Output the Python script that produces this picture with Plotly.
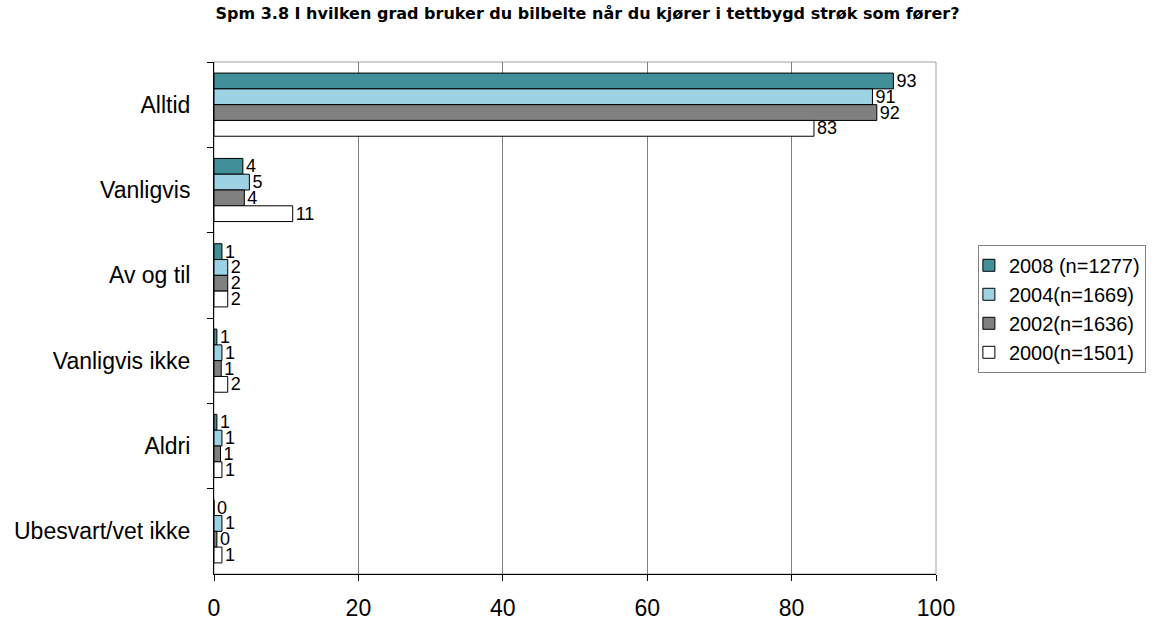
import plotly.graph_objects as go

categories = ["Alltid", "Vanligvis", "Av og til", "Vanligvis ikke", "Aldri", "Ubesvart/vet ikke"]

series_names = ["2008 (n=1277)", "2004(n=1669)", "2002(n=1636)", "2000(n=1501)"]

# bar lengths
values_2008 = [94.1, 4.0, 1.1, 0.4, 0.4, 0.0]
values_2004 = [91.2, 4.9, 1.9, 1.1, 1.1, 1.1]
values_2002 = [91.8, 4.2, 1.9, 1.0, 0.9, 0.4]
values_2000 = [83.1, 10.9, 1.9, 1.9, 1.1, 1.1]

# data labels as printed
labels_2008 = ["93", "4", "1", "1", "1", "0"]
labels_2004 = ["91", "5", "2", "1", "1", "1"]
labels_2002 = ["92", "4", "2", "1", "1", "0"]
labels_2000 = ["83", "11", "2", "2", "1", "1"]

colors = ["#418f98", "#9dd2e5", "#808080", "#ffffff"]

font = "Liberation Sans, Arial, sans-serif"

fig = go.Figure()

all_values = [values_2008, values_2004, values_2002, values_2000]
all_labels = [labels_2008, labels_2004, labels_2002, labels_2000]

for name, vals, labs, col in zip(series_names, all_values, all_labels, colors):
    fig.add_trace(go.Bar(
        y=categories,
        x=vals,
        name=name,
        orientation="h",
        marker=dict(color=col, line=dict(color="black", width=1)),
        text=labs,
        textposition="outside",
        constraintext="none",
        cliponaxis=False,
        textfont=dict(family=font, size=18, color="black"),
        hoverinfo="x+y+name"
    ))

fig.update_layout(
    width=1175,
    height=622,
    barmode="group",
    bargap=0.26,
    bargroupgap=0,
    plot_bgcolor="white",
    paper_bgcolor="white",
    margin=dict(l=214, r=239, t=62, b=48, autoexpand=False),
    font=dict(family=font, size=23, color="black"),
    title=dict(
        text="<b>Spm 3.8 I hvilken grad bruker du bilbelte når du kjører i tettbygd strøk som fører?</b>",
        x=0.5,
        xanchor="center",
        y=0.978,
        yanchor="middle",
        font=dict(family="DejaVu Sans, sans-serif", size=16, color="black")
    ),
    xaxis=dict(
        range=[0, 100],
        dtick=20,
        showgrid=True,
        gridcolor="#808080",
        gridwidth=1,
        showline=True,
        linecolor="black",
        linewidth=1,
        ticks="outside",
        ticklen=6,
        tickcolor="black",
        ticklabelstandoff=7,
        zeroline=False,
        tickfont=dict(family=font, size=23, color="black")
    ),
    yaxis=dict(
        autorange="reversed",
        showline=True,
        linecolor="black",
        linewidth=1,
        ticks="outside",
        ticklen=6,
        tickcolor="black",
        tickson="boundaries",
        ticklabelstandoff=18,
        showgrid=False,
        tickfont=dict(family=font, size=23, color="black")
    ),
    legend=dict(
        x=1.058,
        xanchor="left",
        y=0.643,
        yanchor="top",
        bordercolor="#808080",
        borderwidth=1,
        bgcolor="white",
        indentation=-10,
        font=dict(family=font, size=20, color="black")
    ),
    showlegend=True
)

# light grey frame on the top and right of the plot area
fig.add_shape(
    type="rect", xref="paper", yref="paper",
    x0=0, x1=1, y0=0, y1=1,
    line=dict(color="#a0a0a0", width=1),
    layer="below"
)

fig.write_html(
    "out.html",
    config={"displayModeBar": False},
    post_script="document.body.style.margin='0';document.body.style.overflow='hidden';"
)
